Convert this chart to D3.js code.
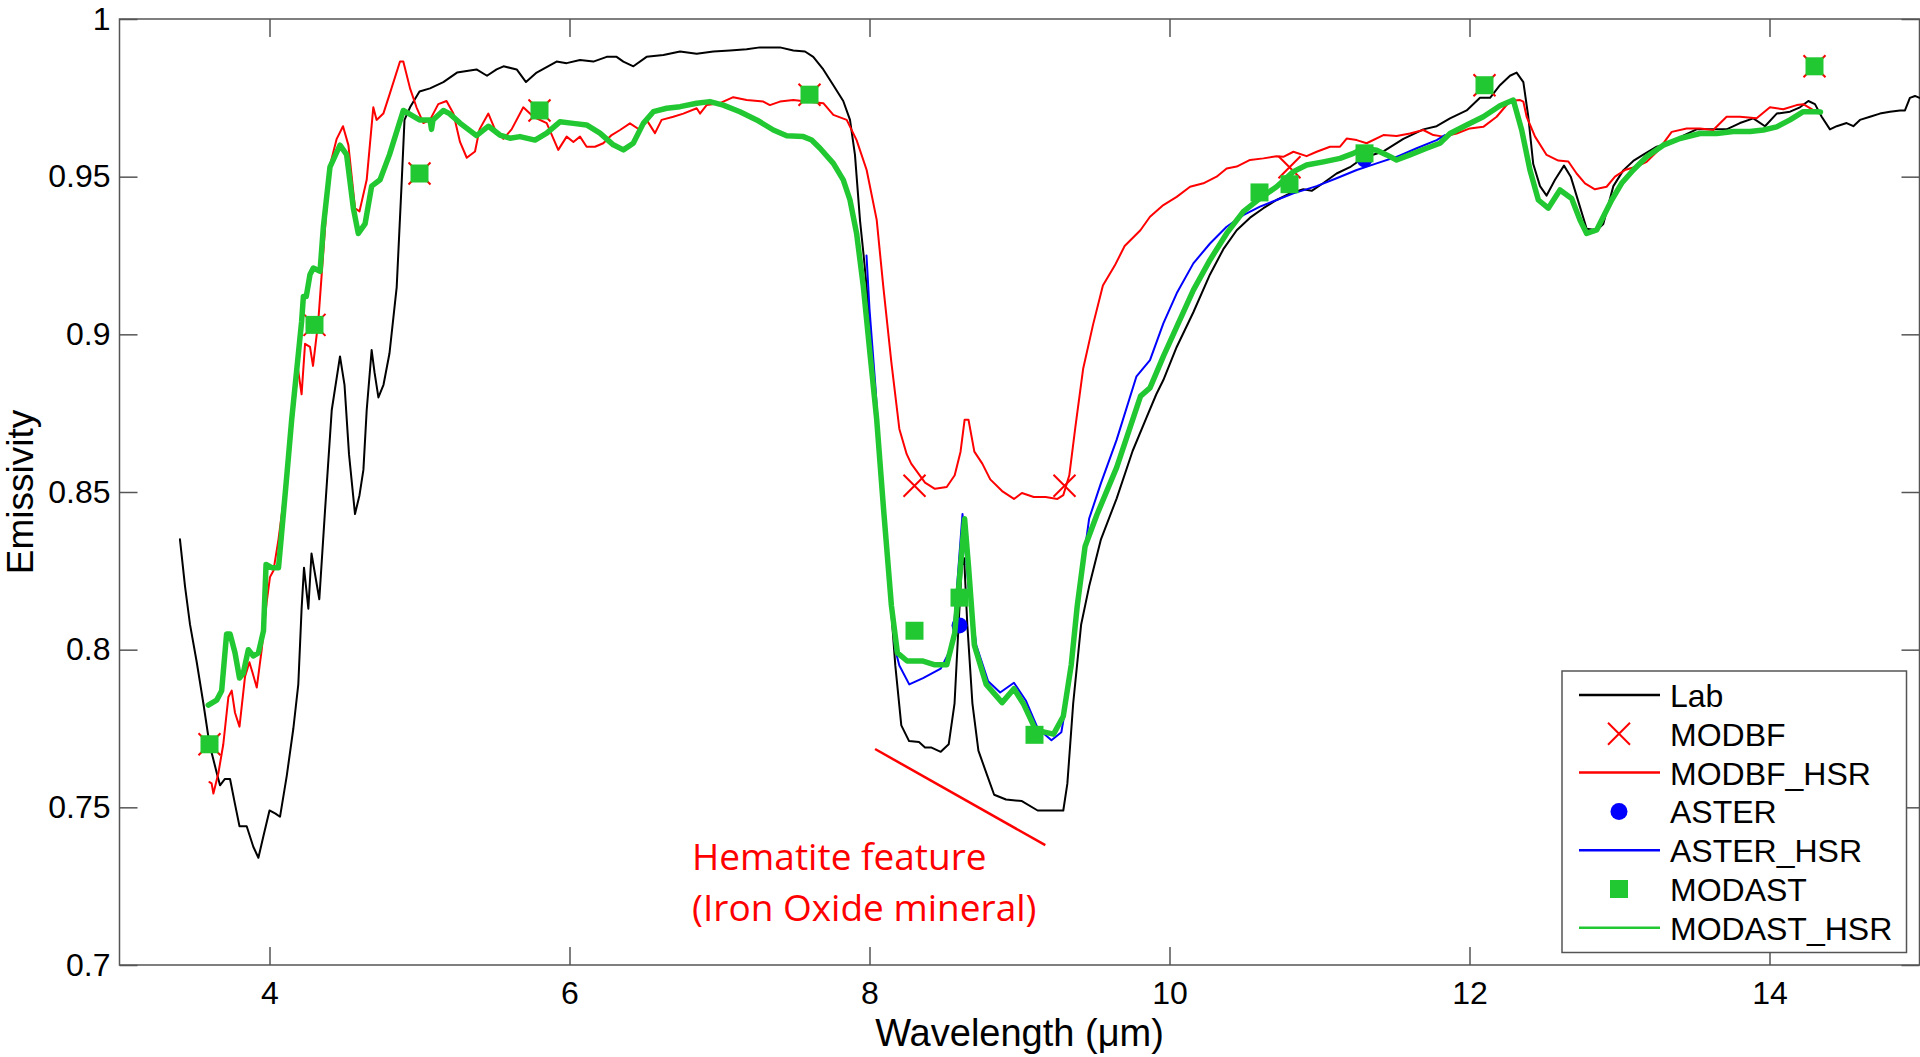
<!DOCTYPE html>
<html>
<head>
<meta charset="utf-8">
<script src="https://cdn.jsdelivr.net/npm/d3@7"></script>
<style>
  body { margin: 0; background: #fff; }
  svg { display: block; font-family: Arial, "Liberation Sans", sans-serif; }
</style>
</head>
<body>
<svg></svg>
<script>
// Values (wavelength in um, emissivity)
const lab = [
  [3.403,0.835],[3.437,0.820],[3.47,0.808],[3.515,0.796],[3.559,0.783],[3.60,0.770],[3.648,0.761],
  [3.67,0.757],[3.703,0.759],[3.737,0.759],[3.77,0.751],[3.80,0.744],[3.848,0.744],[3.892,0.7375],
  [3.926,0.734],[3.96,0.741],[4.00,0.749],[4.04,0.748],[4.07,0.747],[4.115,0.760],[4.159,0.775],
  [4.192,0.789],[4.214,0.813],[4.23,0.826],[4.259,0.813],[4.28,0.8305],[4.332,0.816],[4.37,0.844],
  [4.415,0.876],[4.47,0.893],[4.50,0.884],[4.53,0.862],[4.57,0.843],[4.60,0.849],[4.626,0.857],
  [4.648,0.876],[4.681,0.895],[4.70,0.888],[4.726,0.880],[4.76,0.884],[4.80,0.894],[4.848,0.915],
  [4.88,0.947],[4.90,0.968],[4.937,0.972],[5.0,0.977],[5.07,0.978],[5.159,0.980],[5.25,0.983],
  [5.38,0.984],[5.45,0.982],[5.514,0.984],[5.56,0.985],[5.648,0.984],[5.71,0.980],[5.781,0.983],
  [5.914,0.9865],[5.981,0.986],[6.07,0.987],[6.159,0.9865],[6.248,0.988],[6.314,0.988],[6.359,0.9865],
  [6.426,0.985],[6.514,0.988],[6.626,0.9886],[6.737,0.9897],[6.848,0.989],[6.959,0.9897],[7.07,0.990],
  [7.181,0.9904],[7.27,0.991],[7.403,0.991],[7.492,0.990],[7.57,0.9897],[7.625,0.988],[7.692,0.984],
  [7.759,0.979],[7.825,0.974],[7.87,0.968],[7.903,0.957],[7.937,0.936],[7.961,0.925],[7.981,0.915],
  [8.014,0.894],[8.048,0.873],[8.093,0.845],[8.133,0.820],[8.172,0.795],[8.212,0.776],[8.264,0.771],
  [8.33,0.7707],[8.37,0.769],[8.41,0.769],[8.475,0.7676],[8.528,0.770],[8.567,0.783],[8.594,0.808],
  [8.615,0.8265],[8.631,0.829],[8.652,0.808],[8.686,0.783],[8.726,0.768],[8.778,0.761],[8.831,0.754],
  [8.91,0.7525],[9.016,0.752],[9.121,0.749],[9.2,0.749],[9.292,0.749],[9.319,0.7575],[9.358,0.783],
  [9.411,0.808],[9.464,0.820],[9.543,0.835],[9.648,0.848],[9.754,0.863],[9.85,0.874],[9.912,0.881],
  [9.959,0.8855],[10.048,0.896],[10.159,0.907],[10.27,0.919],[10.359,0.927],[10.448,0.933],
  [10.537,0.937],[10.626,0.940],[10.714,0.9426],[10.803,0.9447],[10.892,0.946],[10.948,0.9455],
  [11.026,0.948],[11.114,0.951],[11.203,0.953],[11.292,0.956],[11.426,0.958],[11.559,0.962],
  [11.692,0.965],[11.781,0.966],[11.87,0.9685],[11.981,0.971],[12.07,0.975],[12.137,0.975],
  [12.203,0.979],[12.27,0.982],[12.314,0.983],[12.359,0.980],[12.392,0.969],[12.425,0.954],
  [12.47,0.947],[12.514,0.944],[12.57,0.949],[12.63,0.9535],[12.675,0.950],[12.736,0.9405],
  [12.781,0.9335],[12.848,0.933],[12.892,0.935],[12.959,0.947],[13.025,0.952],[13.092,0.955],
  [13.159,0.957],[13.248,0.9595],[13.336,0.9606],[13.425,0.963],[13.514,0.965],[13.603,0.965],
  [13.714,0.965],[13.803,0.967],[13.892,0.9685],[13.97,0.966],[14.048,0.970],[14.137,0.9706],
  [14.203,0.972],[14.259,0.974],[14.303,0.973],[14.348,0.969],[14.403,0.965],[14.448,0.966],
  [14.514,0.967],[14.559,0.966],[14.603,0.968],[14.67,0.969],[14.736,0.970],[14.803,0.9706],
  [14.87,0.971],[14.903,0.971],[14.936,0.975],[14.97,0.9756],[15.0,0.975]
];

const modbfHsr = [
  [3.60,0.758],[3.614,0.7576],[3.626,0.7544],[3.659,0.7608],[3.692,0.770],[3.726,0.785],[3.748,0.787],
  [3.77,0.780],[3.80,0.7756],[3.837,0.7915],[3.866,0.796],[3.888,0.7925],[3.915,0.788],[3.948,0.800],
  [3.981,0.815],[4.003,0.823],[4.026,0.825],[4.06,0.835],[4.12,0.857],[4.19,0.889],[4.214,0.881],
  [4.237,0.897],[4.27,0.896],[4.29,0.890],[4.325,0.904],[4.348,0.919],[4.40,0.953],[4.448,0.962],
  [4.49,0.966],[4.526,0.960],[4.57,0.940],[4.60,0.939],[4.648,0.949],[4.692,0.972],[4.714,0.968],
  [4.759,0.970],[4.80,0.976],[4.87,0.9865],[4.892,0.9865],[4.937,0.978],[4.98,0.972],[5.026,0.967],
  [5.07,0.968],[5.125,0.973],[5.18,0.974],[5.226,0.970],[5.27,0.961],[5.315,0.956],[5.37,0.958],
  [5.40,0.965],[5.459,0.970],[5.503,0.965],[5.559,0.962],[5.614,0.965],[5.692,0.972],[5.759,0.969],
  [5.848,0.967],[5.925,0.9585],[5.981,0.9627],[6.026,0.961],[6.07,0.9627],[6.114,0.9595],[6.17,0.9595],
  [6.225,0.9606],[6.281,0.9632],[6.337,0.9648],[6.403,0.9669],[6.47,0.9648],[6.514,0.968],[6.57,0.9638],
  [6.614,0.968],[6.692,0.969],[6.759,0.970],[6.848,0.9717],[6.87,0.970],[6.914,0.9727],[7.003,0.9733],
  [7.092,0.9752],[7.181,0.9743],[7.292,0.9738],[7.336,0.9727],[7.403,0.9738],[7.492,0.9743],
  [7.581,0.9738],[7.692,0.9733],[7.759,0.9696],[7.848,0.968],[7.914,0.9616],[7.981,0.9521],
  [8.048,0.9363],[8.092,0.9151],[8.146,0.891],[8.199,0.870],[8.248,0.862],[8.278,0.859],[8.37,0.853],
  [8.436,0.851],[8.515,0.8516],[8.568,0.8553],[8.607,0.8628],[8.634,0.8729],[8.66,0.8729],[8.699,0.8628],
  [8.752,0.859],[8.805,0.854],[8.884,0.8503],[8.963,0.8478],[9.016,0.8497],[9.095,0.8484],[9.174,0.8484],
  [9.253,0.8478],[9.292,0.849],[9.332,0.8553],[9.372,0.8704],[9.424,0.889],[9.49,0.903],[9.556,0.9155],
  [9.635,0.9218],[9.701,0.928],[9.806,0.933],[9.87,0.9373],[9.959,0.941],[10.048,0.9436],[10.137,0.9468],
  [10.226,0.9479],[10.314,0.950],[10.381,0.9526],[10.448,0.9532],[10.537,0.9553],[10.626,0.9558],
  [10.714,0.9565],[10.759,0.9563],[10.826,0.9579],[10.914,0.9565],[10.981,0.9579],[11.07,0.9595],
  [11.137,0.9595],[11.181,0.9621],[11.248,0.9616],[11.314,0.9606],[11.426,0.9632],[11.514,0.9629],
  [11.603,0.9637],[11.692,0.9648],[11.759,0.9632],[11.826,0.9627],[11.914,0.9637],[12.003,0.9653],
  [12.092,0.9658],[12.181,0.969],[12.27,0.974],[12.337,0.9743],[12.359,0.9738],[12.381,0.969],
  [12.437,0.9627],[12.514,0.9569],[12.592,0.9551],[12.659,0.9548],[12.714,0.951],[12.77,0.9479],
  [12.836,0.946],[12.914,0.9468],[12.97,0.950],[13.036,0.9521],[13.114,0.9532],[13.181,0.9547],
  [13.259,0.9584],[13.348,0.9642],[13.448,0.9653],[13.536,0.9653],[13.625,0.9648],[13.714,0.969],
  [13.803,0.969],[13.914,0.9685],[14.003,0.972],[14.092,0.9714],[14.181,0.9727],[14.225,0.973],
  [14.292,0.9711]
];

const asterHsr = [
  [7.98,0.925],[8.0,0.908],[8.04,0.883],[8.093,0.845],[8.133,0.820],[8.172,0.800],[8.199,0.795],
  [8.265,0.789],[8.357,0.791],[8.475,0.794],[8.554,0.8014],[8.594,0.8265],[8.62,0.843],[8.66,0.820],
  [8.712,0.8014],[8.791,0.790],[8.871,0.7864],[8.963,0.7895],[9.042,0.7839],[9.121,0.7751],
  [9.213,0.7713],[9.279,0.7738],[9.332,0.7889],[9.385,0.8139],[9.464,0.8415],[9.543,0.8528],
  [9.648,0.8666],[9.78,0.8867],[9.87,0.8918],[9.959,0.9035],[10.048,0.913],[10.159,0.9225],
  [10.27,0.9288],[10.381,0.9341],[10.492,0.9378],[10.603,0.9405],[10.714,0.9426],[10.826,0.9447],
  [10.981,0.947],[11.114,0.9495],[11.248,0.9521],[11.381,0.9542],[11.514,0.9563],[11.648,0.959],
  [11.781,0.9616],[11.836,0.9632]
];

const modastHsr = [
  [3.592,0.7824],[3.648,0.784],[3.681,0.787],[3.714,0.805],[3.737,0.805],[3.77,0.799],[3.80,0.791],
  [3.825,0.7925],[3.859,0.800],[3.892,0.798],[3.926,0.799],[3.96,0.806],[3.977,0.827],[4.015,0.826],
  [4.06,0.826],[4.081,0.837],[4.115,0.855],[4.148,0.873],[4.214,0.904],[4.226,0.912],[4.245,0.912],
  [4.27,0.919],[4.292,0.921],[4.337,0.920],[4.359,0.934],[4.403,0.953],[4.47,0.960],[4.514,0.957],
  [4.559,0.940],[4.592,0.932],[4.637,0.935],[4.681,0.947],[4.737,0.949],[4.80,0.957],[4.892,0.971],
  [5.0,0.968],[5.07,0.968],[5.08,0.965],[5.09,0.968],[5.159,0.971],[5.20,0.970],[5.27,0.967],
  [5.38,0.963],[5.46,0.966],[5.536,0.9632],[5.603,0.9622],[5.67,0.9627],[5.77,0.9616],[5.848,0.9638],
  [5.936,0.9674],[6.025,0.9669],[6.114,0.9664],[6.203,0.9638],[6.292,0.9601],[6.359,0.9585],
  [6.425,0.9606],[6.492,0.9669],[6.559,0.9706],[6.648,0.9717],[6.737,0.9722],[6.848,0.9733],
  [6.936,0.9738],[7.025,0.9727],[7.136,0.9706],[7.248,0.968],[7.359,0.9648],[7.448,0.963],
  [7.559,0.9627],[7.614,0.9616],[7.67,0.959],[7.759,0.9542],[7.825,0.949],[7.87,0.9426],[7.914,0.932],
  [7.959,0.9151],[8.003,0.894],[8.048,0.873],[8.093,0.845],[8.146,0.814],[8.186,0.799],[8.251,0.7964],
  [8.357,0.7964],[8.436,0.7952],[8.515,0.7952],[8.568,0.8052],[8.607,0.8265],[8.634,0.8415],
  [8.66,0.8265],[8.699,0.8014],[8.778,0.789],[8.884,0.7832],[8.963,0.7876],[9.029,0.7826],
  [9.108,0.7745],[9.227,0.7732],[9.292,0.7789],[9.345,0.7952],[9.385,0.8139],[9.437,0.8327],
  [9.516,0.8428],[9.648,0.8578],[9.807,0.8804],[9.87,0.883],[9.959,0.893],[10.048,0.9024],
  [10.159,0.914],[10.27,0.9236],[10.381,0.932],[10.492,0.9389],[10.603,0.9431],[10.714,0.9468],
  [10.826,0.9516],[10.914,0.9537],[11.026,0.9547],[11.137,0.9558],[11.226,0.9574],[11.292,0.959],
  [11.381,0.9584],[11.448,0.9569],[11.514,0.9553],[11.603,0.9569],[11.714,0.959],[11.803,0.9606],
  [11.87,0.9637],[11.981,0.9664],[12.092,0.969],[12.203,0.9725],[12.292,0.9743],[12.348,0.9648],
  [12.403,0.9521],[12.459,0.9426],[12.525,0.940],[12.603,0.9458],[12.681,0.9431],[12.736,0.9363],
  [12.781,0.932],[12.848,0.9331],[12.892,0.9373],[12.948,0.9426],[13.014,0.9479],[13.092,0.9521],
  [13.181,0.9563],[13.292,0.960],[13.403,0.9621],[13.536,0.9637],[13.648,0.9637],[13.759,0.9643],
  [13.87,0.9643],[13.959,0.9648],[14.048,0.9658],[14.137,0.968],[14.225,0.9706],[14.314,0.9706],
  [14.34,0.9705]
];

// band values (markers)
const modbfPts = [[3.6,0.770],[4.3,0.903],[5.0,0.951],[5.8,0.971],[7.6,0.976],[8.3,0.852],
  [9.3,0.852],[10.8,0.953],[12.1,0.979],[14.3,0.985]];
const asterPts = [[8.3,0.806],[8.6,0.8077],[9.1,0.773],[10.6,0.945],[11.3,0.9555]];
const modastPts = [[3.6,0.770],[4.3,0.903],[5.0,0.951],[5.8,0.971],[7.6,0.976],[8.3,0.806],
  [8.6,0.8165],[9.1,0.773],[10.6,0.945],[10.8,0.9476],[11.3,0.9574],[12.1,0.979],[14.3,0.985]];

const xTicks = [4, 6, 8, 10, 12, 14];
const yTicks = [0.7, 0.75, 0.8, 0.85, 0.9, 0.95, 1];
const legendNames = ["Lab", "MODBF", "MODBF_HSR", "ASTER", "ASTER_HSR", "MODAST", "MODAST_HSR"];

// layout
const width = 1920, height = 1057;
const plotL = 119.5, plotR = 1919.5, plotT = 19, plotB = 965;
const RED = "#ff0000", BLUE = "#0000ff", GREEN = "#22c832", AXIS = "#555";

const svg = d3.select("svg").attr("width", width).attr("height", height);

const x = d3.scaleLinear().domain([3, 15]).range([plotL, plotR]);
const y = d3.scaleLinear().domain([0.7, 1]).range([plotB, plotT]);

// axes with inward ticks on all four sides
function styleAxis(g) {
  g.select(".domain").remove();
  g.selectAll(".tick line").attr("stroke", AXIS).attr("stroke-width", 1.5);
  g.selectAll(".tick text").attr("fill", "#000").attr("font-size", 32)
    .attr("font-family", "Arial, 'Liberation Sans', sans-serif");
}
svg.append("g").attr("transform", `translate(0,${plotB})`)
  .call(d3.axisBottom(x).tickValues(xTicks).tickSizeInner(-18).tickSizeOuter(0).tickPadding(16).tickFormat(d3.format("d")))
  .call(styleAxis);
svg.append("g").attr("transform", `translate(0,${plotT})`)
  .call(d3.axisTop(x).tickValues(xTicks).tickSizeInner(-18).tickSizeOuter(0).tickFormat(""))
  .call(styleAxis);
svg.append("g").attr("transform", `translate(${plotL},0)`)
  .call(d3.axisLeft(y).tickValues(yTicks).tickSizeInner(-18).tickSizeOuter(0).tickPadding(9).tickFormat(d3.format("")))
  .call(styleAxis);
svg.append("g").attr("transform", `translate(${plotR},0)`)
  .call(d3.axisRight(y).tickValues(yTicks).tickSizeInner(-18).tickSizeOuter(0).tickFormat(""))
  .call(styleAxis);

svg.append("rect")
  .attr("x", plotL).attr("y", plotT).attr("width", plotR - plotL).attr("height", plotB - plotT)
  .attr("fill", "none").attr("stroke", AXIS).attr("stroke-width", 1.5);

// axis labels
svg.append("text")
  .attr("x", (plotL + plotR) / 2).attr("y", 1046)
  .attr("text-anchor", "middle").attr("font-size", 38)
  .text("Wavelength (\u03bcm)");
svg.append("text")
  .attr("transform", `translate(33,${(plotT + plotB) / 2}) rotate(-90)`)
  .attr("text-anchor", "middle").attr("font-size", 37)
  .text("Emissivity");

const line = d3.line().x(d => x(d[0])).y(d => y(d[1]));
const plot = svg.append("g");

function drawLine(data, color, w) {
  plot.append("path").datum(data)
    .attr("d", line).attr("fill", "none")
    .attr("stroke", color).attr("stroke-width", w)
    .attr("stroke-linejoin", "round").attr("stroke-linecap", "round");
}

function crossPath(cx, cy, r) {
  return `M${cx - r},${cy - r}L${cx + r},${cy + r}M${cx - r},${cy + r}L${cx + r},${cy - r}`;
}

// plot order follows the legend
drawLine(lab, "#000", 2);

plot.selectAll(".modbf").data(modbfPts).join("path")
  .attr("d", d => crossPath(x(d[0]), y(d[1]), 11))
  .attr("stroke", RED).attr("stroke-width", 2).attr("fill", "none");

drawLine(modbfHsr, RED, 2);

plot.selectAll(".aster").data(asterPts).join("circle")
  .attr("cx", d => x(d[0])).attr("cy", d => y(d[1])).attr("r", 8)
  .attr("fill", BLUE);

drawLine(asterHsr, BLUE, 2);

plot.selectAll(".modast").data(modastPts).join("rect")
  .attr("x", d => x(d[0]) - 9).attr("y", d => y(d[1]) - 9)
  .attr("width", 18).attr("height", 18).attr("fill", GREEN);

drawLine(modastHsr, GREEN, 5.5);

// annotation
svg.append("line")
  .attr("x1", x(8.037)).attr("y1", y(0.7685))
  .attr("x2", x(9.172)).attr("y2", y(0.738))
  .attr("stroke", RED).attr("stroke-width", 2.5);
const note = svg.append("text")
  .attr("font-family", "'Open Sans', 'Noto Sans', sans-serif")
  .attr("font-size", 37).attr("fill", RED);
note.append("tspan").attr("x", x(6.817)).attr("y", y(0.7301)).text("Hematite feature");
note.append("tspan").attr("x", x(6.817)).attr("y", y(0.714)).text("(Iron Oxide mineral)");

// legend
const lg = svg.append("g");
lg.append("rect")
  .attr("x", 1562).attr("y", 671).attr("width", 344.5).attr("height", 281.5)
  .attr("fill", "#fff").attr("stroke", AXIS).attr("stroke-width", 1.5);
const legendStyle = [
  {type: "line", color: "#000"},
  {type: "cross", color: RED},
  {type: "line", color: RED},
  {type: "circle", color: BLUE},
  {type: "line", color: BLUE},
  {type: "square", color: GREEN},
  {type: "line", color: GREEN}
];
legendNames.forEach((name, i) => {
  const cy = 695 + i * 38.8;
  const s = legendStyle[i];
  if (s.type === "line") {
    lg.append("line").attr("x1", 1579).attr("x2", 1660).attr("y1", cy).attr("y2", cy)
      .attr("stroke", s.color).attr("stroke-width", 2.5);
  } else if (s.type === "cross") {
    lg.append("path").attr("d", crossPath(1619, cy, 11)).attr("stroke", s.color)
      .attr("stroke-width", 2).attr("fill", "none");
  } else if (s.type === "circle") {
    lg.append("circle").attr("cx", 1619).attr("cy", cy).attr("r", 8.5).attr("fill", s.color);
  } else {
    lg.append("rect").attr("x", 1610).attr("y", cy - 9).attr("width", 18).attr("height", 18)
      .attr("fill", s.color);
  }
  lg.append("text").attr("x", 1670).attr("y", cy + 12).attr("font-size", 32).text(name);
});
</script>
</body>
</html>
